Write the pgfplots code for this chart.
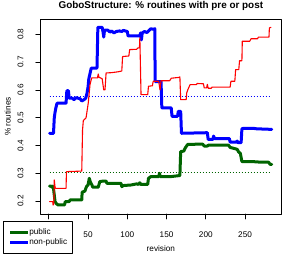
\documentclass[border=0pt]{standalone}
\usepackage{pgfplots}
\pgfplotsset{compat=1.18}
\usepackage{fontspec}
\setmainfont{Liberation Sans}
\definecolor{rblue}{RGB}{0,0,255}
\definecolor{rred}{RGB}{255,0,0}
\definecolor{rgreen}{RGB}{0,100,0}
\begin{document}
\begin{tikzpicture}
\path[use as bounding box] (0,0) rectangle (294bp,254bp);
\begin{axis}[
  at={(40.7bp,40bp)}, anchor=south west,
  scale only axis, width=240.3bp, height=195bp,
  xmin=-10.3, xmax=295.8, ymin=0.1536, ymax=0.855,
  xtick={0,50,100,150,200,250},
  xticklabels={,50,100,150,200,250},
  ytick={0.2,0.3,0.4,0.5,0.6,0.7,0.8},
  yticklabels={0.2,0.3,0.4,0.5,0.6,0.7,0.8},
  xtick pos=bottom, ytick pos=left,
  tick align=outside, major tick length=5bp,
  every tick/.style={black, line width=0.6bp},
  axis line style={black, line width=0.7bp},
  /pgf/number format/assume math mode=true,
  tick label style={font=\fontsize{8.2bp}{10bp}\selectfont, inner sep=0pt},
  xticklabel style={anchor=base, yshift=-18.25bp},
  yticklabel style={xshift=-12.25bp, rotate=90, anchor=base},
  title={GoboStructure: \% routines with pre or post},
  title style={at={(axis description cs:0.5,1)}, anchor=base, yshift=5bp, font=\fontsize{9.9bp}{12bp}\selectfont\bfseries},
  xlabel={revision},
  xlabel style={at={(axis description cs:0.5,0)}, anchor=base, yshift=-37.5bp, font=\fontsize{8.2bp}{10bp}\selectfont},
  ylabel={\% routines},
  ylabel style={at={(axis description cs:-0.1248,0.5)}, anchor=base, font=\fontsize{8.2bp}{10bp}\selectfont},
  legend style={at={(axis description cs:-0.158,-0.036)}, anchor=north west, draw=black, line width=0.6bp, fill=white,
    font=\fontsize{8.2bp}{10bp}\selectfont, inner xsep=5.6bp, inner ysep=6bp, row sep=0pt,
    nodes={inner sep=0pt, minimum height=10bp},
    /tikz/every even column/.append style={column sep=6.7bp}},
  legend cell align=left,
  legend image code/.code={\draw[#1] (0bp,0bp) -- (17.7bp,0bp);},
  line join=round, line cap=round,
]
% mean lines
\addplot[forget plot, rblue, line width=1bp, dash pattern=on 0.6bp off 2.4bp, line cap=butt] coordinates {(1,0.5756) (283,0.5756)};
\addplot[forget plot, rgreen, line width=1bp, dash pattern=on 0.6bp off 2.4bp, line cap=butt] coordinates {(1,0.3036) (283,0.3036)};
% public
\addplot[rgreen, line width=3bp] coordinates {
(1,0.254) (3,0.254) (4,0.250) (5,0.254) (6,0.245) (7,0.222) (8,0.198) (10,0.190) (12,0.186) (20,0.186) (21,0.198) (26,0.198) (27,0.204) (42,0.204) (42.5,0.232) (46,0.236) (48,0.252) (50,0.258) (51.6,0.282) (53,0.268) (55,0.258) (56,0.250) (63,0.250) (65,0.270) (69,0.272) (73,0.272) (74,0.264) (92,0.264) (93,0.252) (95,0.256) (105,0.258) (112,0.262) (114,0.260) (116,0.266) (117,0.260) (126,0.260) (127,0.282) (130,0.288) (140,0.288) (141,0.300) (142,0.288) (155,0.288) (167,0.292) (168,0.378) (172,0.380) (174,0.392) (177,0.404) (196,0.405) (198,0.398) (202,0.398) (203,0.401) (229,0.401) (231,0.393) (238,0.388) (240,0.386) (242,0.376) (244,0.372) (246,0.342) (260,0.342) (270,0.340) (280,0.340) (282,0.332) (284,0.332)
};
\addlegendentry{public}
% non-public
\addplot[rblue, line width=3bp] coordinates {
(1,0.444) (6,0.444) (7,0.500) (8,0.520) (9,0.535) (10.5,0.552) (22,0.552) (23,0.597) (25,0.597) (26,0.570) (30,0.570) (32,0.565) (35,0.572) (40,0.568) (42,0.560) (45,0.565) (47,0.570) (48.5,0.585) (50,0.610) (51,0.640) (53,0.665) (54,0.678) (61.4,0.678) (62.5,0.825) (68,0.825) (69,0.810) (70,0.790) (71,0.815) (75,0.815) (78,0.808) (80,0.812) (83,0.805) (86,0.810) (90,0.812) (93,0.810) (95,0.814) (100,0.810) (101,0.794) (116,0.794) (117,0.805) (118,0.780) (119,0.805) (122,0.810) (125,0.806) (128,0.815) (130,0.820) (133,0.818) (135,0.820) (135.5,0.630) (143,0.630) (144,0.535) (156,0.535) (157,0.505) (164,0.505) (165,0.523) (168,0.523) (169,0.444) (202,0.446) (203,0.422) (209,0.422) (210,0.434) (211,0.425) (230,0.425) (231,0.412) (239,0.412) (240,0.416) (241,0.410) (245,0.410) (246,0.460) (248,0.462) (260,0.462) (265,0.460) (284,0.458)
};
\addlegendentry{non-public}
% red (overall)
\addplot[forget plot, rred, line width=1.1bp] coordinates {
(1,0.198) (5,0.198) (5.5,0.186) (6.5,0.190) (7,0.276) (8,0.250) (8.5,0.246) (22,0.246) (22.5,0.306) (42,0.308) (43,0.456) (44,0.490) (46,0.495) (47.5,0.500) (50.3,0.553) (52.5,0.619) (54.6,0.643) (62,0.643) (63,0.657) (64,0.645) (66,0.643) (68,0.640) (70,0.600) (71.6,0.600) (73,0.661) (80,0.662) (88,0.665) (93,0.668) (94,0.720) (102,0.722) (103,0.745) (112,0.746) (113,0.750) (115.5,0.752) (116,0.787) (117.5,0.583) (126,0.583) (127,0.613) (132,0.615) (133,0.631) (140,0.631) (141.7,0.600) (143,0.633) (154,0.633) (156,0.642) (166,0.645) (167,0.647) (168,0.565) (175,0.565) (175.7,0.589) (177,0.600) (180,0.619) (188,0.619) (189,0.623) (197,0.622) (198,0.607) (201,0.607) (202,0.620) (203,0.606) (207,0.606) (208,0.610) (231,0.610) (232,0.631) (237,0.631) (238,0.673) (242,0.673) (243,0.705) (246,0.705) (246.5,0.775) (256,0.775) (257.6,0.784) (266,0.784) (267,0.790) (280.5,0.790) (281,0.823) (283,0.825)
};
\end{axis}
\end{tikzpicture}
\end{document}
